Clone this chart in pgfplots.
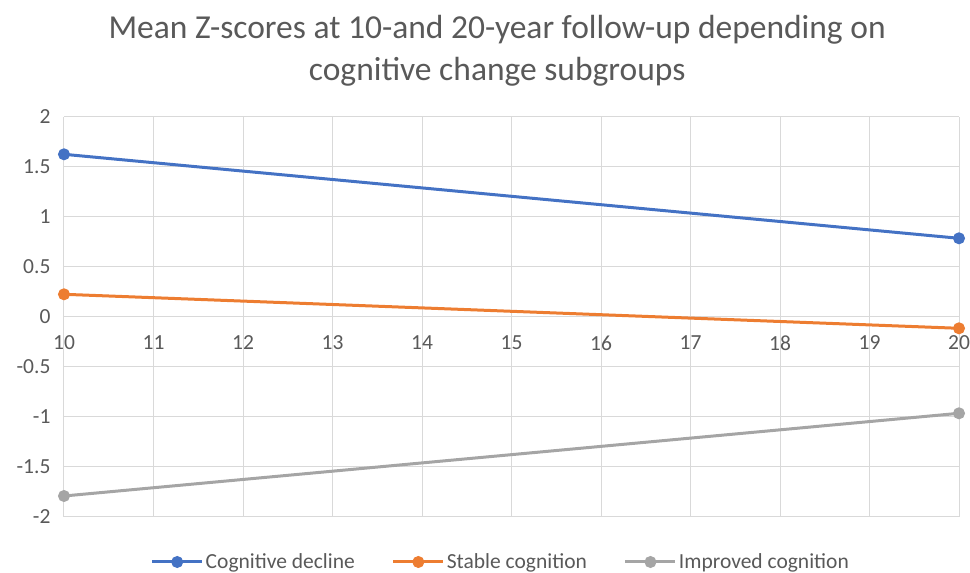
\documentclass[border=0pt]{standalone}
\usepackage{pgfplots}
\pgfplotsset{compat=1.18}
\usepackage{fontspec}
\setmainfont{Carlito}
\definecolor{cblue}{HTML}{4472C4}
\definecolor{corange}{HTML}{ED7D31}
\definecolor{cgray}{HTML}{A5A5A5}
\definecolor{txt}{HTML}{595959}
\definecolor{gridc}{HTML}{D9D9D9}
\begin{document}
\begin{tikzpicture}
\useasboundingbox (-64pt,-56pt) rectangle (906pt,517pt);
\begin{axis}[
 at={(0,0)}, anchor=south west, scale only axis, width=895pt, height=400pt,
 xmin=10, xmax=20, ymin=-2, ymax=2, enlargelimits=false, clip=false,
 axis x line=middle, axis y line=left,
 hide obscured x ticks=false, hide obscured y ticks=false,
 axis line style={draw=gridc, line width=1pt, -},
 major tick length=0pt,
 xtick={10,11,12,13,14,15,16,17,18,19,20},
 ytick={-2,-1.5,-1,-0.5,0,0.5,1,1.5,2},
 grid=major, major grid style={draw=gridc, line width=1pt},
 ticklabel style={font=\fontsize{21.5}{24}\selectfont, text=txt},
 xticklabel style={yshift=-15pt},
 yticklabel style={xshift=-10pt},
 /pgf/number format/assume math mode=true,
 title={Mean Z-scores at 10-and 20-year follow-up depending on\\cognitive change subgroups},
 title style={at={(0.484,1)}, anchor=center, yshift=60pt, align=center, font=\fontsize{33.5}{42}\selectfont, text=txt},
 legend columns=3,
 legend style={at={(0.488,0)}, anchor=center, yshift=-45pt, draw=none, fill=none,
   font=\fontsize{21.5}{24}\selectfont, text=txt,
   /tikz/every even column/.append style={column sep=35pt}, inner sep=0pt},
 legend cell align=left,
 legend image code/.code={\draw[#1, mark repeat=2, mark phase=2] plot coordinates {(0pt,0pt) (25pt,0pt) (50pt,0pt)};},
]
\addplot[cblue, line width=3pt, mark=*, mark size=5.5pt, mark options={solid, fill=cblue, draw=cblue, line width=1pt}] coordinates {(10,1.627) (20,0.787)};
\addlegendentry{Cognitive decline}
\addplot[corange, line width=3pt, mark=*, mark size=5.5pt, mark options={solid, fill=corange, draw=corange, line width=1pt}] coordinates {(10,0.227) (20,-0.113)};
\addlegendentry{Stable cognition}
\addplot[cgray, line width=3pt, mark=*, mark size=5.5pt, mark options={solid, fill=cgray, draw=cgray, line width=1pt}] coordinates {(10,-1.79) (20,-0.963)};
\addlegendentry{Improved cognition}
\end{axis}
\end{tikzpicture}
\end{document}
